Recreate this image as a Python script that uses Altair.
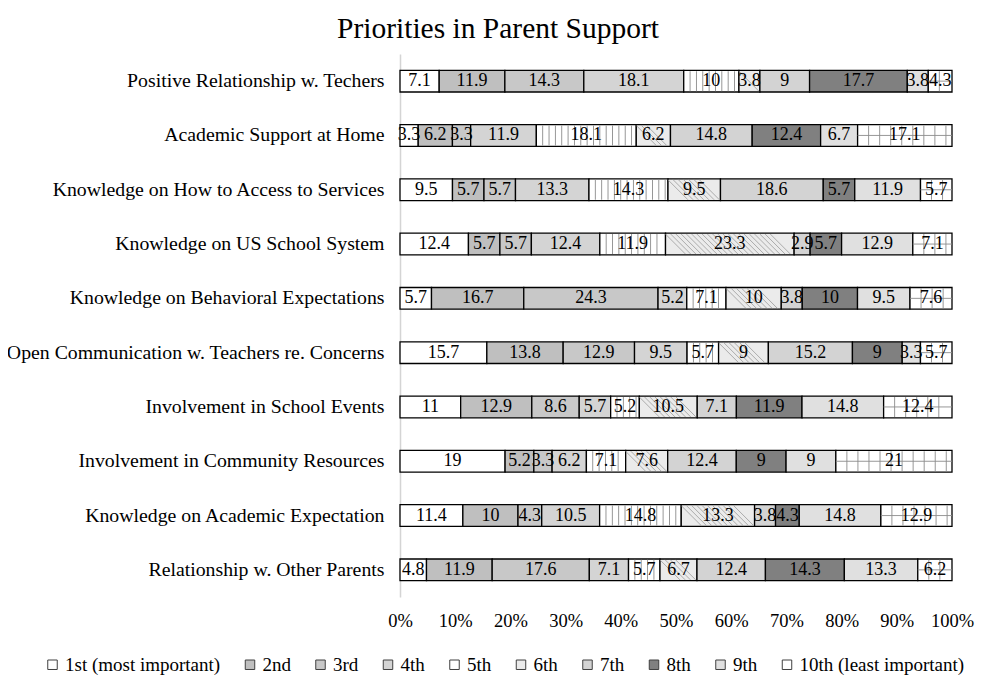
import altair as alt
import pandas as pd

categories = [
    "Positive Relationship w. Techers",
    "Academic Support at Home",
    "Knowledge on How to Access to Services",
    "Knowledge on US School System",
    "Knowledge on Behavioral Expectations",
    "Open Communication w. Teachers re. Concerns",
    "Involvement in School Events",
    "Involvement in Community Resources",
    "Knowledge on Academic Expectation",
    "Relationship w. Other Parents",
]
ranks = ["1st (most important)", "2nd", "3rd", "4th", "5th", "6th", "7th", "8th", "9th",
         "10th (least important)"]

positive_relationship = [7.1, 11.9, 14.3, 18.1, 10, 3.8, 9, 17.7, 3.8, 4.3]
academic_support = [3.3, 6.2, 3.3, 11.9, 18.1, 6.2, 14.8, 12.4, 6.7, 17.1]
access_services = [9.5, 5.7, 5.7, 13.3, 14.3, 9.5, 18.6, 5.7, 11.9, 5.7]
us_school_system = [12.4, 5.7, 5.7, 12.4, 11.9, 23.3, 2.9, 5.7, 12.9, 7.1]
behavioral = [5.7, 16.7, 24.3, 5.2, 7.1, 10, 3.8, 10, 9.5, 7.6]
open_communication = [15.7, 13.8, 12.9, 9.5, 5.7, 9, 15.2, 9, 3.3, 5.7]
school_events = [11, 12.9, 8.6, 5.7, 5.2, 10.5, 7.1, 11.9, 14.8, 12.4]
community_resources = [19, 5.2, 3.3, 6.2, 7.1, 7.6, 12.4, 9, 9, 21]
academic_expectation = [11.4, 10, 4.3, 10.5, 14.8, 13.3, 3.8, 4.3, 14.8, 12.9]
other_parents = [4.8, 11.9, 17.6, 7.1, 5.7, 6.7, 12.4, 14.3, 13.3, 6.2]

rows = [positive_relationship, academic_support, access_services, us_school_system,
        behavioral, open_communication, school_events, community_resources,
        academic_expectation, other_parents]

records = []
for cat, vals in zip(categories, rows):
    for i, (r, v) in enumerate(zip(ranks, vals)):
        records.append({"item": cat, "rank": r, "order": i, "value": v})
df = pd.DataFrame(records)

fills = ["#ffffff", "#bfbfbf", "#c8c8c8", "#d4d4d4", "#ffffff",
         "#ebebeb", "#d3d3d3", "#808080", "#e0e0e0", "#ffffff"]

FONT = "Liberation Serif"
LINE_GRAY = "#8c8c8c"

base = alt.Chart(df).transform_stack(
    stack="value",
    groupby=["item"],
    sort=[alt.SortField("order", order="ascending")],
    as_=["v0", "v1"],
    offset="normalize",
).transform_calculate(mid="(datum.v0 + datum.v1) / 2")

y_enc = alt.Y(
    "item:N",
    sort=categories,
    title=None,
    scale=alt.Scale(paddingInner=0.6, paddingOuter=0.3),
    axis=alt.Axis(
        ticks=False,
        domain=True,
        domainColor="#d4d4d4",
        domainWidth=1.5,
        labelFont=FONT,
        labelFontSize=19.8,
        labelColor="black",
        labelPadding=16,
        labelLimit=500,
    ),
)
y_plain = alt.Y("item:N", sort=categories)

bars = base.mark_bar(stroke="black", strokeWidth=1.3).encode(
    x=alt.X(
        "v0:Q",
        title=None,
        scale=alt.Scale(domain=[0, 1], nice=False),
        axis=alt.Axis(
            format="%",
            values=[0, 0.1, 0.2, 0.3, 0.4, 0.5, 0.6, 0.7, 0.8, 0.9, 1.0],
            ticks=False,
            domain=False,
            grid=False,
            labelOverlap=False,
            labelFlush=False,
            labelFont=FONT,
            labelFontSize=18.5,
            labelColor="black",
            labelPadding=14,
        ),
    ),
    x2="v1:Q",
    y=y_enc,
    fill=alt.Fill(
        "rank:N",
        sort=ranks,
        scale=alt.Scale(domain=ranks, range=fills),
        legend=alt.Legend(
            title=None,
            orient="none",
            direction="horizontal",
            columns=10,
            legendX=-357,
            legendY=601,
            symbolType="square",
            symbolSize=90,
            symbolStrokeColor="#404040",
            symbolStrokeWidth=1,
            labelFont=FONT,
            labelFontSize=19,
            labelColor="black",
            labelOffset=3,
            labelLimit=300,
            columnPadding=19.5,
        ),
    ),
    order=alt.Order("order:Q"),
)

# vertical line pattern for 5th
vstripes5 = base.transform_filter("datum.order == 4").transform_calculate(
    xs="sequence(datum.v0 + 0.0115, datum.v1 - 0.004, 0.0115)"
).transform_flatten(["xs"]).mark_tick(
    orient="vertical", size=20, thickness=0.9, color=LINE_GRAY, opacity=1
).encode(x=alt.X("xs:Q", title=None), y=y_plain)

# diagonal hatching for 6th
hatch6 = base.transform_filter("datum.order == 5").transform_calculate(
    xs="sequence(datum.v0 + 0.018, datum.v1 - 0.0175, 0.0095)"
).transform_flatten(["xs"]).mark_point(
    shape="M -1 -1 L 1 1", size=400, filled=False, color="#9a9a9a",
    strokeWidth=0.8, opacity=1
).encode(x=alt.X("xs:Q", title=None), y=y_plain)

# grid pattern for 10th
vstripes10 = base.transform_filter("datum.order == 9").transform_calculate(
    xs="sequence(datum.v0 + 0.02, datum.v1 - 0.006, 0.02)"
).transform_flatten(["xs"]).mark_tick(
    orient="vertical", size=20, thickness=0.9, color=LINE_GRAY, opacity=1
).encode(x=alt.X("xs:Q", title=None), y=y_plain)

hline10 = base.transform_filter("datum.order == 9").mark_rule(
    color=LINE_GRAY, strokeWidth=0.9
).encode(x=alt.X("v0:Q", title=None), x2="v1:Q", y=y_plain)

labels = base.mark_text(font=FONT, fontSize=18, color="black", baseline="middle").encode(
    x=alt.X("mid:Q", title=None),
    y=y_plain,
    text=alt.Text("value:Q", format="~g"),
)

chart = alt.layer(bars, vstripes5, hatch6, vstripes10, hline10, labels).properties(
    width=552,
    height=543,
    autosize=alt.AutoSizeParams(type="none"),
    padding={"left": 392, "top": 46, "right": 28, "bottom": 78},
    title=alt.TitleParams(
        text="Priorities in Parent Support",
        font=FONT,
        fontSize=29.5,
        fontWeight="normal",
        color="black",
        anchor="middle",
        frame="group",
        dx=-178,
        dy=32,
        offset=19,
        baseline="alphabetic",
    ),
).configure_view(stroke=None)

chart.save("out.html", embed_options={"renderer": "svg", "actions": False})
